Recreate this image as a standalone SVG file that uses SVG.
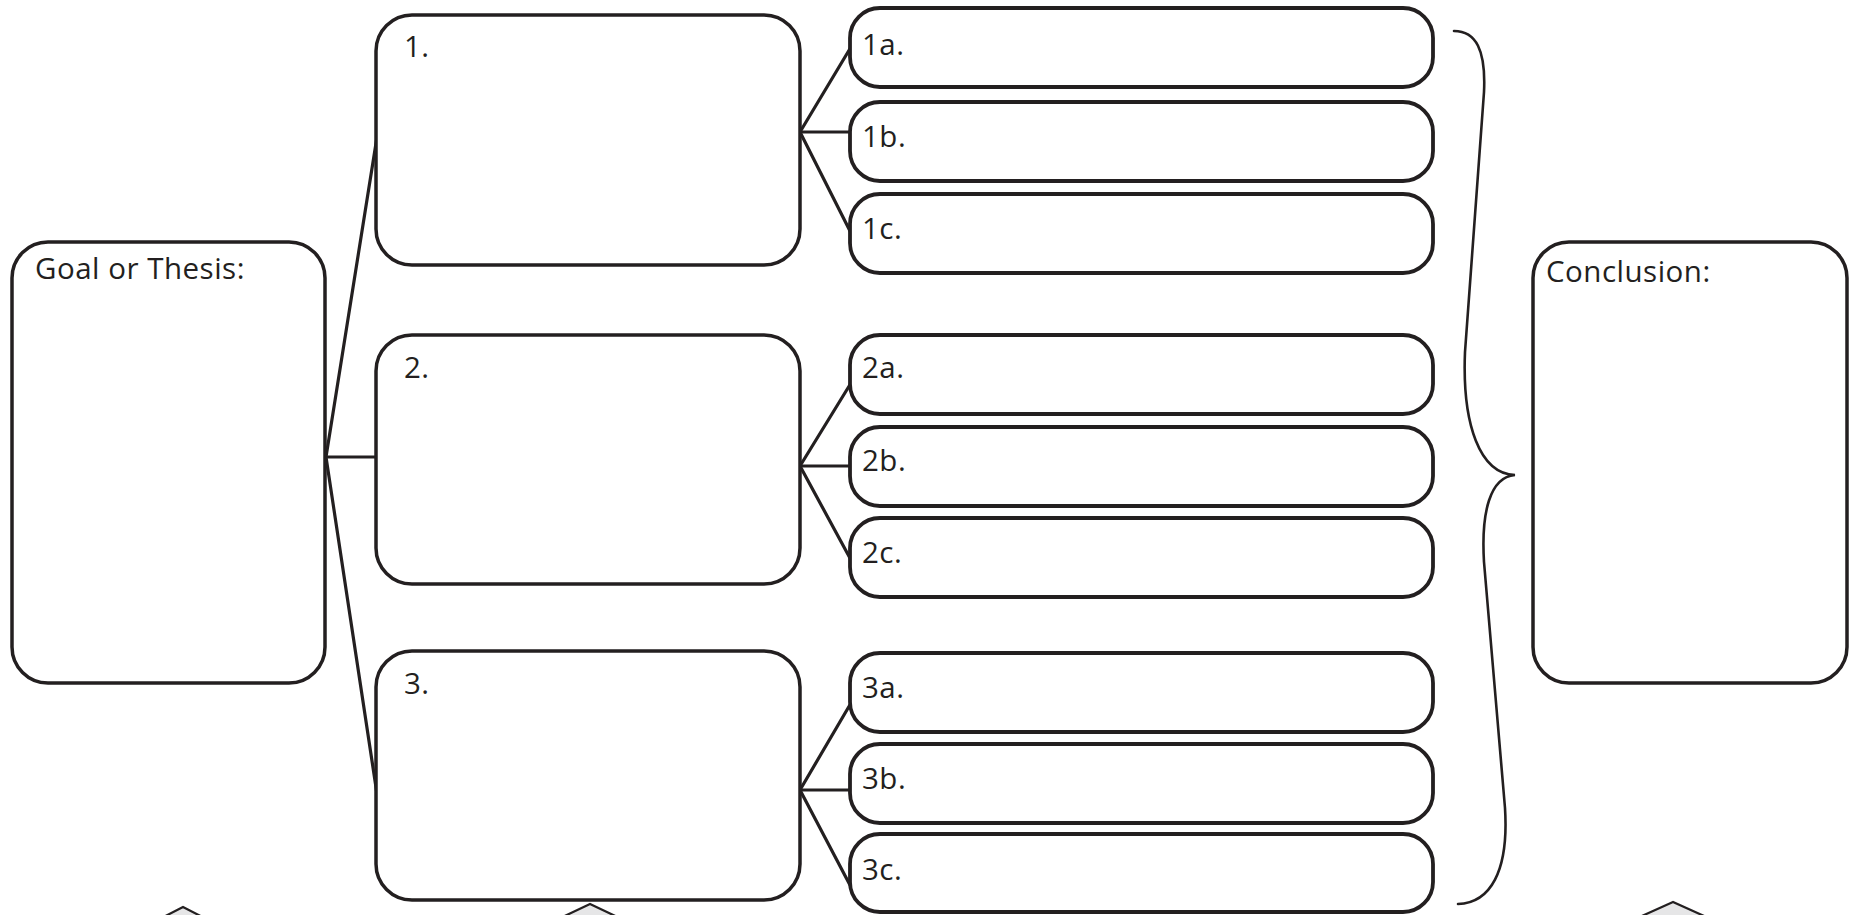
<svg xmlns="http://www.w3.org/2000/svg" width="1872" height="915" viewBox="0 0 1872 915">
<style>
.box{fill:#fff;stroke:#231f20;stroke-width:3.5}
.sub{fill:#fff;stroke:#231f20;stroke-width:3.8}
.ln{fill:none;stroke:#231f20;stroke-width:3.2;stroke-linecap:round}
.br{fill:none;stroke:#231f20;stroke-width:2.6;stroke-linecap:round}
.tri{fill:#e6e6e7;stroke:#231f20;stroke-width:2.2}
text{font-family:"Open Sans","Liberation Sans",sans-serif;font-size:29.5px;letter-spacing:0.5px;fill:#231f20}
</style>
<rect width="1872" height="915" fill="#fff"/>
<g id="bottom-shapes">
<polygon class="tri" points="183,907 148,925 218,925"/>
<polygon class="tri" points="590,904 552,922 628,922"/>
<polygon class="tri" points="1673,902 1633,920 1713,920"/>
</g>
<g id="connectors">
<line class="ln" x1="326" y1="457" x2="377" y2="137"/>
<line class="ln" x1="326" y1="457" x2="377" y2="457"/>
<line class="ln" x1="326" y1="457" x2="377" y2="794"/>
<line class="ln" x1="800" y1="132" x2="851" y2="47"/>
<line class="ln" x1="800" y1="132" x2="851" y2="132"/>
<line class="ln" x1="800" y1="132" x2="851" y2="233"/>
<line class="ln" x1="800" y1="466" x2="851" y2="383"/>
<line class="ln" x1="800" y1="466" x2="851" y2="466"/>
<line class="ln" x1="800" y1="466" x2="851" y2="560"/>
<line class="ln" x1="800" y1="790" x2="851" y2="703"/>
<line class="ln" x1="800" y1="790" x2="851" y2="790"/>
<line class="ln" x1="800" y1="790" x2="851" y2="887"/>
</g>
<g id="brace">
<path class="br" d="M1454,31 C1476,31 1486,50 1484,92 L1465,352 C1462,425 1480,474 1515,475 C1490,477 1481,512 1484,562 L1505,808 C1509,872 1490,903 1458,904"/>
</g>
<g id="goal">
<rect class="box" x="12" y="242" width="313" height="441" rx="36"/>
<text x="35" y="279">Goal or Thesis:</text>
</g>
<g id="n1">
<rect class="box" x="376" y="15" width="424" height="250" rx="36"/>
<text x="404" y="57">1.</text>
</g>
<g id="n2">
<rect class="box" x="376" y="335" width="424" height="249" rx="36"/>
<text x="404" y="378">2.</text>
</g>
<g id="n3">
<rect class="box" x="376" y="651" width="424" height="249" rx="36"/>
<text x="404" y="694">3.</text>
</g>
<g id="n1a"><rect class="sub" x="850" y="8" width="583" height="79" rx="30"/><text x="862" y="55">1a.</text></g>
<g id="n1b"><rect class="sub" x="850" y="102" width="583" height="79" rx="30"/><text x="862" y="147">1b.</text></g>
<g id="n1c"><rect class="sub" x="850" y="194" width="583" height="79" rx="30"/><text x="862" y="239">1c.</text></g>
<g id="n2a"><rect class="sub" x="850" y="335" width="583" height="79" rx="30"/><text x="862" y="378">2a.</text></g>
<g id="n2b"><rect class="sub" x="850" y="427" width="583" height="79" rx="30"/><text x="862" y="471">2b.</text></g>
<g id="n2c"><rect class="sub" x="850" y="518" width="583" height="79" rx="30"/><text x="862" y="563">2c.</text></g>
<g id="n3a"><rect class="sub" x="850" y="653" width="583" height="79" rx="30"/><text x="862" y="698">3a.</text></g>
<g id="n3b"><rect class="sub" x="850" y="744" width="583" height="79" rx="30"/><text x="862" y="789">3b.</text></g>
<g id="n3c"><rect class="sub" x="850" y="834" width="583" height="78" rx="30"/><text x="862" y="880">3c.</text></g>
<g id="conclusion">
<rect class="box" x="1533" y="242" width="314" height="441" rx="36"/>
<text x="1546" y="282">Conclusion:</text>
</g>
</svg>
